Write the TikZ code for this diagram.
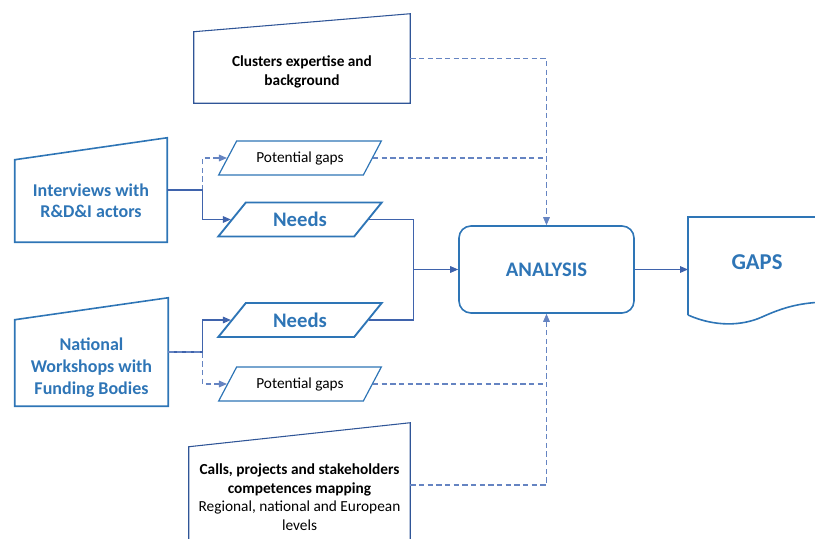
\documentclass[tikz,border=0pt]{standalone}
\usepackage{fontspec}
\setmainfont{Carlito}
\usetikzlibrary{arrows.meta,shapes.geometric}

\definecolor{txtblue}{HTML}{2E75B6}
\definecolor{boxblue}{HTML}{2E75B6}
\definecolor{darkblue}{HTML}{2F5597}
\definecolor{lineblue}{HTML}{3F63AC}
\definecolor{dashblue}{HTML}{6584C2}

\tikzset{
  manual/.style={inner sep=0pt, align=center},
  pgram/.style={trapezium, trapezium left angle=47, trapezium right angle=133,
    trapezium stretches=true, minimum width=123pt, minimum height=25.5pt,
    inner sep=0pt, draw=boxblue},
  link/.style={draw=lineblue, line width=0.8pt},
  dlink/.style={draw=dashblue, line width=0.8pt, dash pattern=on 4pt off 2.5pt},
  tip/.style={-{Triangle[length=6pt,width=5pt]}},
}

\begin{document}
\begin{tikzpicture}[x=0.75pt,y=-0.75pt]
    \useasboundingbox (0,0) rectangle (815,539);

    % manual input boxes
    \node[manual, minimum width=162pt, minimum height=53.25pt,
      font=\fontsize{11.5}{14.25}\selectfont\bfseries] (clus) at (302,67.5)
      {\rule{0pt}{15pt}Clusters expertise and\\background};
    \draw[darkblue, line width=0.8pt] (clus.south west) -- (clus.south east)
      -- ([yshift=13.5pt]clus.north east) -- (clus.north west) -- cycle;

    \node[manual, minimum width=114pt, minimum height=61.5pt, text=txtblue,
      font=\fontsize{13.5}{16}\selectfont\bfseries] (iv) at (91,201)
      {Interviews with\\R\&D\&I actors};
    \draw[boxblue, line width=1.2pt] (iv.south west) -- (iv.south east)
      -- ([yshift=16.5pt]iv.north east) -- (iv.north west) -- cycle;

    \node[manual, minimum width=114.75pt, minimum height=64.5pt, text=txtblue,
      font=\fontsize{13.5}{16.5}\selectfont\bfseries] (ws) at (91.5,363)
      {\rule{0pt}{16pt}National\\Workshops with\\Funding Bodies};
    \draw[boxblue, line width=1.2pt] (ws.south west) -- (ws.south east)
      -- ([yshift=16.5pt]ws.north east) -- (ws.north west) -- cycle;

    \node[manual, minimum width=165.75pt, minimum height=75pt,
      font=\fontsize{11.5}{13.9}\selectfont] (calls) at (299.5,497)
      {\textbf{Calls, projects and stakeholders}\\\textbf{competences mapping}\\Regional, national and European\\levels};
    \draw[darkblue, line width=0.8pt] (calls.south west) -- (calls.south east)
      -- ([yshift=18pt]calls.north east) -- (calls.north west) -- cycle;

    % needs and potential gaps
    \node[pgram, line width=0.9pt, font=\fontsize{11.5}{13}\selectfont] (pg1) at (300,158) {Potential gaps};
    \node[pgram, line width=1.4pt, text=txtblue, font=\fontsize{15.5}{18}\selectfont\bfseries] (nd1) at (300,219.5) {Needs};
    \node[pgram, line width=1.4pt, text=txtblue, font=\fontsize{15.5}{18}\selectfont\bfseries] (nd2) at (300,320) {Needs};
    \node[pgram, line width=0.9pt, font=\fontsize{11.5}{13}\selectfont] (pg2) at (300,384) {Potential gaps};

    \node[draw=boxblue, line width=1.2pt, rounded corners=9pt, minimum width=131.25pt,
      minimum height=65.25pt, text=txtblue, font=\fontsize{15.5}{18}\selectfont\bfseries]
      (ana) at (546.5,269.5) {ANALYSIS};

    % document shape
    \draw[boxblue, line width=1.2pt] (688,315) -- (688,217) -- (830,217);
    \draw[boxblue, line width=1.2pt] (688,315) .. controls (715,327) and (742,326) .. (762,317)
      .. controls (782,308) and (800,302) .. (830,302);
    \node[text=txtblue, font=\fontsize{17}{20}\selectfont\bfseries] (gaps) at (757,262) {GAPS};
    \coordinate (gapsin) at (688,269.5);

    % connectors
    \draw[dlink,tip] ([yshift=8.25pt]iv.east) -- ++(35,0) |- (pg1.west);
    \draw[link,tip] ([yshift=8.25pt]iv.east) -- ++(35,0) |- (nd1.west);
    \draw[link,tip] ([yshift=8.25pt]ws.east) -- ++(34,0) |- (nd2.west);
    \draw[dlink,tip] ([yshift=8.25pt]ws.east) -- ++(34,0) |- (pg2.west);

    \coordinate (merge) at ([xshift=-33.75pt]ana.west);
    \draw[link] (nd1.east) -| (merge);
    \draw[link] (nd2.east) -| (merge);
    \draw[link,tip] (merge) -- (ana.west);

    \draw[dlink,tip] ([yshift=6.75pt]clus.east) -| (ana.north);
    \draw[dlink] (pg1.east) -- (pg1.east -| ana.north);
    \draw[dlink,tip] ([yshift=9pt]calls.east) -| (ana.south);
    \draw[dlink] (pg2.east) -- (pg2.east -| ana.south);

    \draw[link,tip] (ana.east) -- (gapsin);
\end{tikzpicture}
\end{document}
